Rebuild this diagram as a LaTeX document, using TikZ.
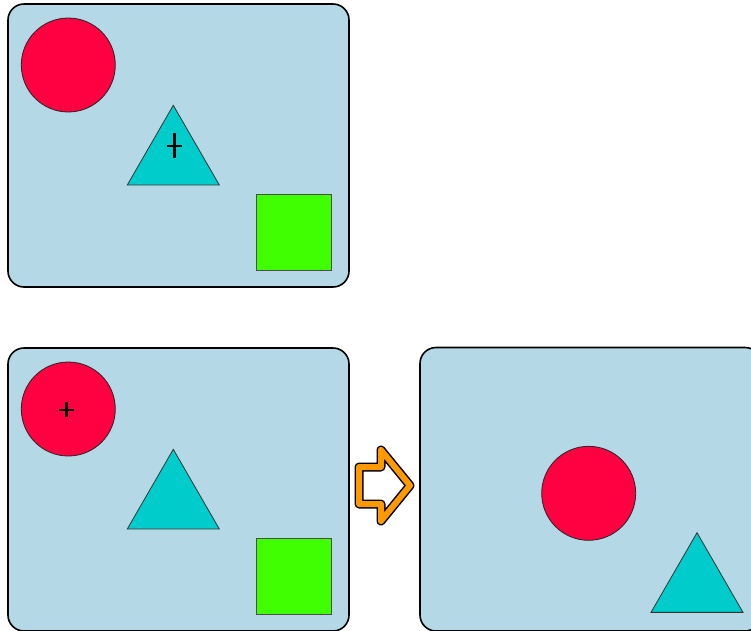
\documentclass[tikz,border=0pt]{standalone}
\usetikzlibrary{shapes.geometric}
\definecolor{panelblue}{RGB}{180,216,229}
\definecolor{shapered}{RGB}{255,0,64}
\definecolor{shapecyan}{RGB}{0,204,204}
\definecolor{shapegreen}{RGB}{64,255,0}
\definecolor{arroworange}{RGB}{255,153,0}
\begin{document}
\begin{tikzpicture}[x=1pt,y=-1pt,
  panel/.style={draw=black,line width=1.6pt,fill=panelblue,rounded corners=16pt},
  ball/.style={circle,draw=black!85,line width=0.8pt,fill=shapered,minimum size=94pt,inner sep=0pt,outer sep=0pt},
  tri/.style={regular polygon,regular polygon sides=3,draw=black!80,line width=0.8pt,fill=shapecyan,minimum size=106.2pt,inner sep=0pt,outer sep=0pt},
  sq/.style={rectangle,draw=black!70,line width=0.8pt,fill=shapegreen,minimum size=75.7pt,inner sep=0pt,outer sep=0pt},
  crossline/.style={draw=black,line width=2.5pt}]
\useasboundingbox (0,0) rectangle (751,630);
\clip (0,0) rectangle (751,630);
% panel 1
\draw[panel] (8,4) rectangle (349,287);
\node[ball] (c1) at (68.3,65) {};
\node[tri] (t1) at (173.3,158.4) {};
\node[sq] (s1) at (293.8,232.3) {};
\coordinate (x1a) at (174.3,133);
\coordinate (x1b) at (174.3,158);
\coordinate (x1c) at (166.7,146);
\coordinate (x1d) at (182.3,146);
\draw[crossline] (x1a) -- (x1b);
\draw[crossline] (x1c) -- (x1d);
% panel 2
\draw[panel] (8,348) rectangle (349,631);
\node[ball] (c2) at (68.3,409) {};
\node[tri] (t2) at (173.3,502.4) {};
\node[sq] (s2) at (293.8,576.3) {};
\coordinate (x2a) at (66.5,401.7);
\coordinate (x2b) at (66.5,417.3);
\coordinate (x2c) at (59,410);
\coordinate (x2d) at (74,410);
\draw[crossline] (x2a) -- (x2b);
\draw[crossline] (x2c) -- (x2d);
% panel 3
\draw[panel] (420,347.5) rectangle (761,631);
\node[ball] (c3) at (588.7,493.3) {};
\node[tri] (t3) at (697,585.8) {};
% arrow
\def\arrowpath{(359,467) -- (381,467) -- (381,450) -- (410,485.5) -- (381,521) -- (381,504) -- (359,504) -- cycle}
\fill[white] \arrowpath;
\draw[black,line width=9pt,line join=round] \arrowpath;
\draw[arroworange,line width=6pt,line join=round] \arrowpath;
\end{tikzpicture}
\end{document}
